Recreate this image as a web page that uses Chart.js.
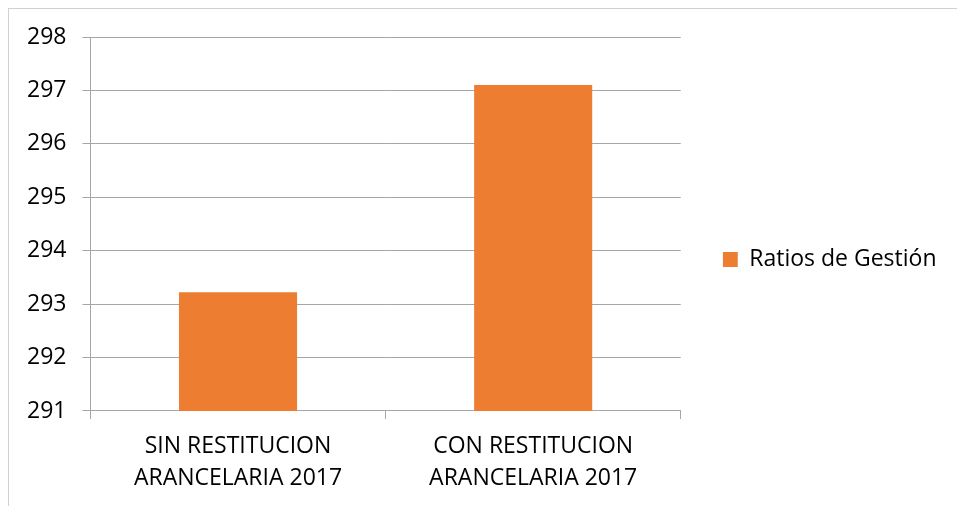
<!DOCTYPE html>
<html>
<head>
<meta charset="utf-8">
<script src="https://cdn.jsdelivr.net/npm/chart.js@4.4.1/dist/chart.umd.min.js"></script>
<style>
  html, body { margin: 0; padding: 0; background: #fff; overflow: hidden; }
  #wrap { position: relative; width: 957px; height: 506px; }
  #frame { position: absolute; left: 8px; top: 8px; width: 2000px; height: 2000px;
           border: 1px solid #d0d0d0; pointer-events: none; }
  canvas { position: absolute; left: 0; top: 0; }
</style>
</head>
<body>
<div id="wrap">
  <canvas id="ratiosChart" width="957" height="506"></canvas>
  <div id="frame"></div>
</div>
<script>
// data
var categories = [
  ['SIN RESTITUCION', 'ARANCELARIA 2017'],
  ['CON RESTITUCION', 'ARANCELARIA 2017']
];
var seriesName = 'Ratios de Gestión';
var seriesValues = [293.22, 297.1];
var yMin = 291, yMax = 298, yStep = 1;

var gridColor = '#a6a6a6';

Chart.defaults.font.family = "'Open Sans', sans-serif";
Chart.defaults.font.size = 23;
Chart.defaults.color = '#000';

// Chart.js caps a side legend at a quarter of the width, so the gap
// between plot and legend is added here instead of via labels.padding
var legendNudge = {
  id: 'legendNudge',
  afterLayout: function (chart) {
    var lg = chart.legend;
    if (!lg) return;
    lg.left += 42;
    lg.right += 42;
    lg.top -= 12;
    lg.bottom -= 12;
  }
};

function drawChart() {
  var ctx = document.getElementById('ratiosChart').getContext('2d');
  new Chart(ctx, {
    type: 'bar',
    data: {
      labels: categories,
      datasets: [{
        label: seriesName,
        data: seriesValues,
        backgroundColor: '#ED7D31',
        barPercentage: 0.4,
        categoryPercentage: 1.0
      }]
    },
    options: {
      responsive: false,
      animation: false,
      devicePixelRatio: 1,
      layout: {
        padding: { top: 37, left: 11, right: 53, bottom: 0 }
      },
      plugins: {
        tooltip: { enabled: false },
        legend: {
          position: 'right',
          labels: {
            boxWidth: 15,
            boxHeight: 15,
            padding: 0,
            font: { size: 23 }
          }
        }
      },
      scales: {
        x: {
          grid: {
            display: true,
            drawOnChartArea: false,
            drawTicks: true,
            tickLength: 8,
            offset: true,
            color: gridColor
          },
          border: { color: gridColor },
          ticks: {
            padding: 12,
            maxRotation: 0,
            font: { size: 23, lineHeight: 1.37 }
          }
        },
        y: {
          min: yMin,
          max: yMax,
          grid: {
            color: gridColor,
            tickLength: 8
          },
          border: { color: gridColor },
          ticks: {
            stepSize: yStep,
            padding: 16,
            font: { size: 23 }
          }
        }
      }
    },
    plugins: [legendNudge]
  });
}

// make sure text is measured with the real font
document.fonts.load("23px 'Open Sans'").then(drawChart, drawChart);
</script>
</body>
</html>
